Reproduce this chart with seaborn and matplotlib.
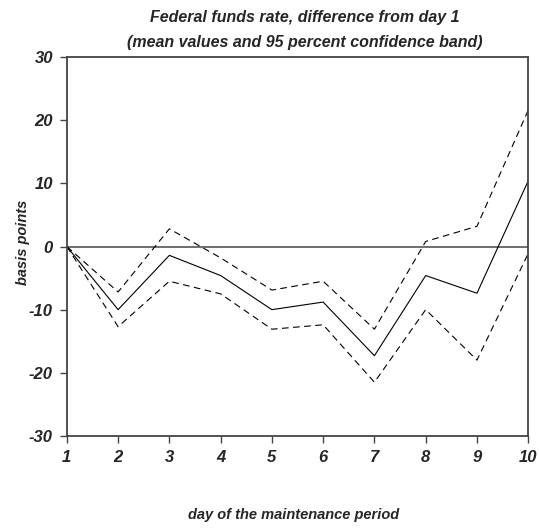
import numpy as np
import pandas as pd
import matplotlib
matplotlib.use("Agg")
import matplotlib.pyplot as plt
import seaborn as sns

# values (basis points)
days = [1, 2, 3, 4, 5, 6, 7, 8, 9, 10]
mean_diff = [0, -10.0, -1.4, -4.6, -10.0, -8.8, -17.3, -4.6, -7.4, 10.4]
upper_band = [0, -7.2, 2.8, -1.8, -6.9, -5.5, -13.1, 0.8, 3.2, 21.6]
lower_band = [0, -12.7, -5.5, -7.5, -13.1, -12.4, -21.5, -10.0, -18.0, -1.1]
yticks = [-30, -20, -10, 0, 10, 20, 30]

df = pd.DataFrame({"day": days, "mean": mean_diff,
                   "upper": upper_band, "lower": lower_band})

sns.set_style("ticks")
plt.rcParams['font.family'] = ['Liberation Sans', 'DejaVu Sans']
plt.rcParams['axes.unicode_minus'] = False

fig = plt.figure(figsize=(5.39, 5.29), dpi=100)
ax = fig.add_axes([0.124, 0.176, 0.856, 0.716])

ax.axhline(0, color="#555555", lw=1.2, zorder=1)
sns.lineplot(data=df, x="day", y="mean", ax=ax, color="black", lw=0.8)
sns.lineplot(data=df, x="day", y="upper", ax=ax, color="black", lw=0.8,
             linestyle=(0, (6, 4)))
sns.lineplot(data=df, x="day", y="lower", ax=ax, color="black", lw=0.8,
             linestyle=(0, (6, 4)))

ax.set_xlim(1, 10)
ax.set_ylim(-30, 30)
ax.set_xticks(days)
ax.set_yticks(yticks)
for s in ax.spines.values():
    s.set_color("#444444")
    s.set_linewidth(1.3)
ax.tick_params(direction="out", length=5, width=1, color="#444444", pad=5)
for lab in ax.get_xticklabels() + ax.get_yticklabels():
    lab.set_fontsize(12)
    lab.set_fontweight("bold")
    lab.set_fontstyle("italic")

ax.set_xlabel("")
ax.set_ylabel("basis points", fontsize=10.5, fontweight="bold", fontstyle="italic")
ax.yaxis.set_label_coords(-0.08, 0.51)
fig.text(0.545, 0.018, "day of the maintenance period", ha="center",
         fontsize=10.5, fontweight="bold", fontstyle="italic")
fig.text(0.565, 0.958, "Federal funds rate, difference from day 1", ha="center",
         fontsize=11.5, fontweight="bold", fontstyle="italic")
fig.text(0.565, 0.911, "(mean values and 95 percent confidence band)", ha="center",
         fontsize=11.5, fontweight="bold", fontstyle="italic")

fig.savefig("out.png", dpi=100)
